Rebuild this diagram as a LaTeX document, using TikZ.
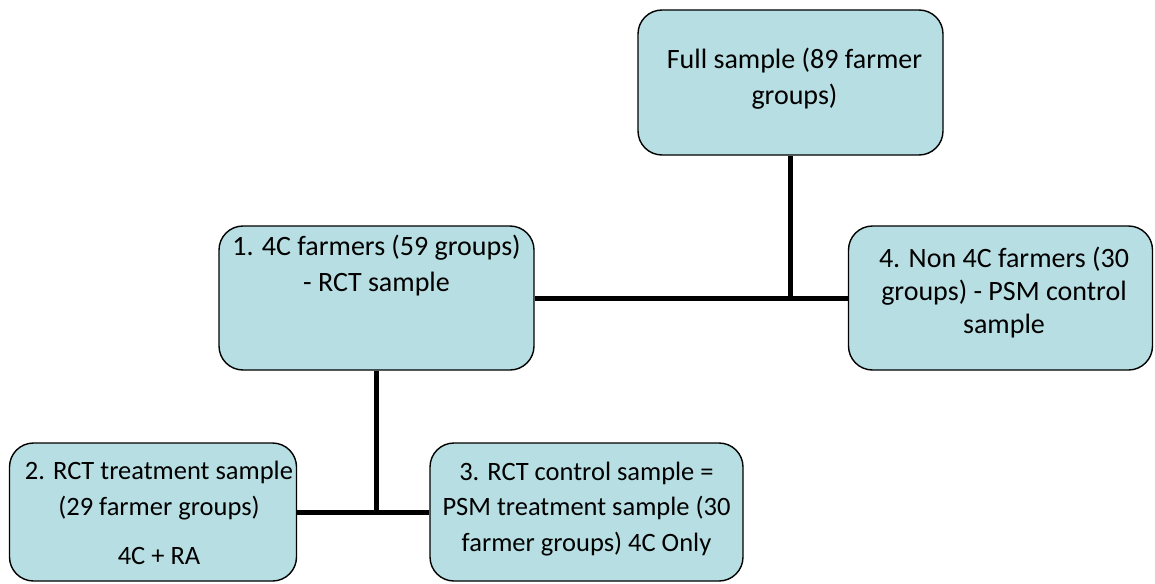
\documentclass[tikz,border=0pt]{standalone}
\usepackage{fontspec}
\setmainfont{Carlito}
\begin{document}
\begin{tikzpicture}[x=1pt,y=-1pt,
  box/.style={draw=black, line width=1.4pt, fill=boxfill, rounded corners=24pt, inner sep=0pt},
  txt/.style={align=center, inner sep=0pt, font=\fontsize{28}{35.5}\selectfont},
  smalltxt/.style={txt, font=\fontsize{26.5}{35.5}\selectfont},
  link/.style={line width=5pt}]
\definecolor{boxfill}{RGB}{183,222,226}
\useasboundingbox (0,0) rectangle (1155,583);
% boxes
\node[box, minimum width=305pt, minimum height=145pt] (full) at (790.5,82.5) {};
\node[box, minimum width=315pt, minimum height=144pt] (b1) at (376.5,298) {};
\node[box, minimum width=304pt, minimum height=144pt] (b4) at (1000.5,298) {};
\node[box, minimum width=287pt, minimum height=138pt] (b2) at (153,512) {};
\node[box, minimum width=313pt, minimum height=138pt] (b3) at (586.5,512) {};
% texts
\node[txt] (tfull) at (794.5,78.5) {Full sample (89 farmer\\groups)};
\node[txt] (t1) at (376.5,265.5) {1. 4C farmers (59 groups)\\- RCT sample};
\node[txt, font=\fontsize{28}{33}\selectfont] (t4) at (1004,293) {4. Non 4C farmers (30\\groups) - PSM control\\sample};
\node[smalltxt] (t2) at (159,513) {2. RCT treatment sample\\(29 farmer groups)\\[14pt]4C + RA};
\node[smalltxt] (t3) at (586.5,509) {3. RCT control sample =\\PSM treatment sample (30\\farmer groups) 4C Only};
% connectors
\coordinate (j1) at (full.south |- b1.east);
\coordinate (j2) at (b1.south |- b2.east);
\draw[link] (full.south) -- (j1);
\draw[link] (b1.east) -- (b4.west);
\draw[link] (b1.south) -- (j2);
\draw[link] (b2.east) -- (b3.west);
\end{tikzpicture}
\end{document}
